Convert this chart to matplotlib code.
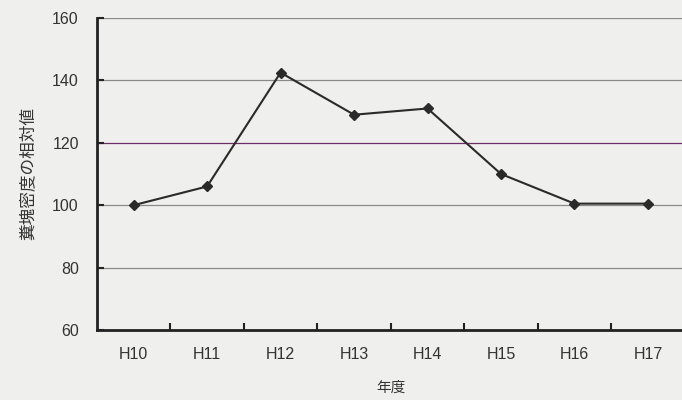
import matplotlib.pyplot as plt

plt.rcParams['font.family'] = ['Liberation Sans', 'Noto Sans CJK JP', 'DejaVu Sans']

years = ['H10', 'H11', 'H12', 'H13', 'H14', 'H15', 'H16', 'H17']
values = [100, 106, 142.5, 129, 131, 110, 100.5, 100.5]
yticks = [60, 80, 100, 120, 140, 160]

fig = plt.figure(figsize=(6.82, 4), dpi=100)
fig.patch.set_facecolor('#efefee')
ax = fig.add_axes([0.142, 0.175, 0.862, 0.78])
ax.set_facecolor('#efefee')

# horizontal grid, the 120 line is purple in the original
for v in yticks[1:]:
    color = '#6a2f66' if v == 120 else '#8a8a8a'
    ax.axhline(v, color=color, linewidth=0.9, zorder=1)

x = list(range(len(years)))
ax.plot(x, values, color='#2a2a2a', linewidth=1.5, marker='D',
        markersize=5.5, zorder=3)

ax.set_xlim(-0.5, len(years) - 0.5)
ax.set_ylim(60, 160)
ax.set_yticks(yticks)
ax.set_xticks(x)
ax.set_xticklabels(years)
ax.set_xticks([i + 0.5 for i in x], minor=True)

ax.tick_params(axis='x', which='major', length=0, pad=12,
               labelsize=11.5, labelcolor='#333333')
ax.tick_params(axis='x', which='minor', direction='in', length=5, width=1.5,
               color='#222222')
ax.tick_params(axis='y', direction='in', length=5, width=1.5,
               color='#222222', pad=13, labelsize=11.5, labelcolor='#333333')

for s in ['top', 'right']:
    ax.spines[s].set_visible(False)
for s in ['left', 'bottom']:
    ax.spines[s].set_linewidth(2)
    ax.spines[s].set_color('#222222')

ax.set_ylabel('糞塊密度の相対値', fontsize=12, color='#333333', labelpad=12)
ax.set_xlabel('年度', fontsize=10.5, color='#333333', labelpad=14)

fig.savefig('out.png', dpi=100, facecolor=fig.get_facecolor())
